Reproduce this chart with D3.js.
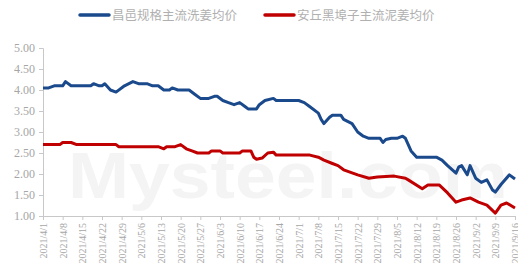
<!DOCTYPE html>
<html>
<head>
<meta charset="utf-8">
<script src="https://cdn.jsdelivr.net/npm/d3@7"></script>
<style>
  body { margin: 0; background: #fff; }
  svg { display: block; }
</style>
</head>
<body>
<svg id="gingerChart" width="518" height="273"></svg>
<script>
// series names
var seriesNames = ["昌邑规格主流洗姜均价", "安丘黑埠子主流泥姜均价"];

// blue series: 昌邑
var blueDates = ["2021/4/1","2021/4/3","2021/4/5","2021/4/8","2021/4/9","2021/4/11","2021/4/18","2021/4/19","2021/4/21","2021/4/22","2021/4/23","2021/4/25","2021/4/27","2021/4/30","2021/5/3","2021/5/5","2021/5/8","2021/5/10","2021/5/12","2021/5/14","2021/5/16","2021/5/17","2021/5/19","2021/5/23","2021/5/25","2021/5/27","2021/5/30","2021/6/1","2021/6/2","2021/6/4","2021/6/6","2021/6/8","2021/6/10","2021/6/12","2021/6/13","2021/6/16","2021/6/17","2021/6/19","2021/6/22","2021/6/23","2021/7/1","2021/7/3","2021/7/5","2021/7/8","2021/7/9","2021/7/10","2021/7/12","2021/7/13","2021/7/16","2021/7/17","2021/7/20","2021/7/22","2021/7/24","2021/7/26","2021/7/30","2021/7/31","2021/8/1","2021/8/3","2021/8/5","2021/8/7","2021/8/8","2021/8/10","2021/8/12","2021/8/15","2021/8/19","2021/8/21","2021/8/23","2021/8/26","2021/8/27","2021/8/28","2021/8/30","2021/8/31","2021/9/2","2021/9/4","2021/9/6","2021/9/8","2021/9/9","2021/9/11","2021/9/14","2021/9/16"];
var blueValues = [4.05,4.05,4.1,4.1,4.2,4.1,4.1,4.15,4.1,4.1,4.15,4.0,3.95,4.1,4.2,4.15,4.15,4.1,4.1,4.0,4.0,4.05,4.0,4.0,3.9,3.8,3.8,3.85,3.85,3.75,3.7,3.65,3.7,3.6,3.55,3.55,3.65,3.75,3.8,3.75,3.75,3.7,3.6,3.45,3.3,3.2,3.35,3.4,3.4,3.3,3.2,3.0,2.9,2.85,2.85,2.75,2.82,2.85,2.85,2.9,2.85,2.55,2.4,2.4,2.4,2.33,2.2,2.02,2.17,2.2,1.98,2.2,1.9,1.8,1.86,1.62,1.57,1.75,1.98,1.88];

// red series: 安丘
var redDates = ["2021/4/1","2021/4/7","2021/4/8","2021/4/11","2021/4/13","2021/4/27","2021/4/28","2021/5/12","2021/5/14","2021/5/15","2021/5/18","2021/5/20","2021/5/22","2021/5/24","2021/5/26","2021/5/30","2021/5/31","2021/6/3","2021/6/4","2021/6/10","2021/6/11","2021/6/14","2021/6/15","2021/6/16","2021/6/18","2021/6/20","2021/6/22","2021/6/23","2021/7/5","2021/7/8","2021/7/10","2021/7/13","2021/7/15","2021/7/17","2021/7/22","2021/7/26","2021/7/29","2021/8/4","2021/8/8","2021/8/9","2021/8/14","2021/8/16","2021/8/20","2021/8/23","2021/8/26","2021/8/28","2021/8/31","2021/9/3","2021/9/6","2021/9/9","2021/9/11","2021/9/13","2021/9/16"];
var redValues = [2.7,2.7,2.75,2.75,2.7,2.7,2.65,2.65,2.6,2.65,2.65,2.7,2.6,2.55,2.5,2.5,2.55,2.55,2.5,2.5,2.55,2.55,2.4,2.35,2.38,2.5,2.52,2.45,2.45,2.4,2.33,2.25,2.2,2.1,1.98,1.9,1.93,1.95,1.9,1.86,1.65,1.74,1.74,1.55,1.33,1.38,1.43,1.33,1.26,1.07,1.26,1.31,1.19];

// axis labels
var yTicks = [1.0, 1.5, 2.0, 2.5, 3.0, 3.5, 4.0, 4.5, 5.0];
var xTickLabels = ["2021/4/1","2021/4/8","2021/4/15","2021/4/22","2021/4/29","2021/5/6","2021/5/13","2021/5/20","2021/5/27","2021/6/3","2021/6/10","2021/6/17","2021/6/24","2021/7/1","2021/7/8","2021/7/15","2021/7/22","2021/7/29","2021/8/5","2021/8/12","2021/8/19","2021/8/26","2021/9/2","2021/9/9","2021/9/16"];

var parseDate = d3.timeParse("%Y/%-m/%-d");

var svg = d3.select("#gingerChart"),
  margin = { top: 48, right: 3, bottom: 57, left: 43 },
  width = +svg.attr("width") - margin.left - margin.right,
  height = +svg.attr("height") - margin.top - margin.bottom;

var x = d3.scaleTime()
  .domain([parseDate(xTickLabels[0]), parseDate(xTickLabels[xTickLabels.length - 1])])
  .range([0, width]);
var y = d3.scaleLinear().domain([1, 5]).range([height, 0]);

var g = svg.append("g")
  .attr("transform", "translate(" + margin.left + "," + margin.top + ")");

// faint watermark
g.append("text")
  .attr("x", 25)
  .attr("y", 150)
  .attr("font-family", "Liberation Sans, Arial, sans-serif")
  .attr("font-weight", "bold")
  .attr("font-size", 64)
  .attr("textLength", 440)
  .attr("lengthAdjust", "spacingAndGlyphs")
  .attr("fill", "#f4f4f4")
  .text("Mysteel.com");

var axisColor = "#c8c8c8", textColor = "#a6a6a6";

// y axis
var yAxis = g.append("g")
  .attr("class", "y axis")
  .call(d3.axisLeft(y).tickValues(yTicks).tickSize(4).tickFormat(d3.format(".2f")));

// x axis
var xAxis = g.append("g")
  .attr("class", "x axis")
  .attr("transform", "translate(0," + height + ")")
  .call(d3.axisBottom(x)
    .tickValues(xTickLabels.map(parseDate))
    .tickSize(4)
    .tickFormat(d3.timeFormat("%Y/%-m/%-d")));

[yAxis, xAxis].forEach(function(a) {
  a.select(".domain").attr("stroke", axisColor);
  a.selectAll(".tick line").attr("stroke", axisColor);
  a.selectAll("text")
    .attr("fill", textColor)
    .attr("font-family", "Liberation Serif, Times New Roman, serif");
});
yAxis.selectAll("text").attr("font-size", 12).attr("x", -8);
xAxis.selectAll("text")
  .attr("font-size", 10)
  .attr("transform", "rotate(-90)")
  .attr("text-anchor", "end")
  .attr("x", -7)
  .attr("y", 0)
  .attr("dy", "0.35em");

var line = d3.line()
  .x(function(d) { return x(d.date); })
  .y(function(d) { return y(d.value); });

var blueData = blueDates.map(function(d, i) { return { date: parseDate(d), value: blueValues[i] }; });
var redData = redDates.map(function(d, i) { return { date: parseDate(d), value: redValues[i] }; });

var colors = ["#1a4a8c", "#c00000"];

g.append("path")
  .datum(blueData)
  .attr("fill", "none")
  .attr("stroke", colors[0])
  .attr("stroke-width", 3)
  .attr("stroke-linejoin", "round")
  .attr("d", line);

g.append("path")
  .datum(redData)
  .attr("fill", "none")
  .attr("stroke", colors[1])
  .attr("stroke-width", 3)
  .attr("stroke-linejoin", "round")
  .attr("d", line);

// legend
var legendX = [80, 265];
var legend = svg.append("g").attr("class", "legend");
seriesNames.forEach(function(name, i) {
  legend.append("line")
    .attr("x1", legendX[i]).attr("x2", legendX[i] + 29)
    .attr("y1", 15).attr("y2", 15)
    .attr("stroke", colors[i])
    .attr("stroke-width", 3.5)
    .attr("stroke-linecap", "round");
  legend.append("text")
    .attr("x", legendX[i] + 32)
    .attr("y", 15)
    .attr("dy", "0.36em")
    .attr("font-family", "Noto Sans CJK SC, sans-serif")
    .attr("font-size", 12.5)
    .attr("fill", "#b0b0b0")
    .text(name);
});
</script>
</body>
</html>
